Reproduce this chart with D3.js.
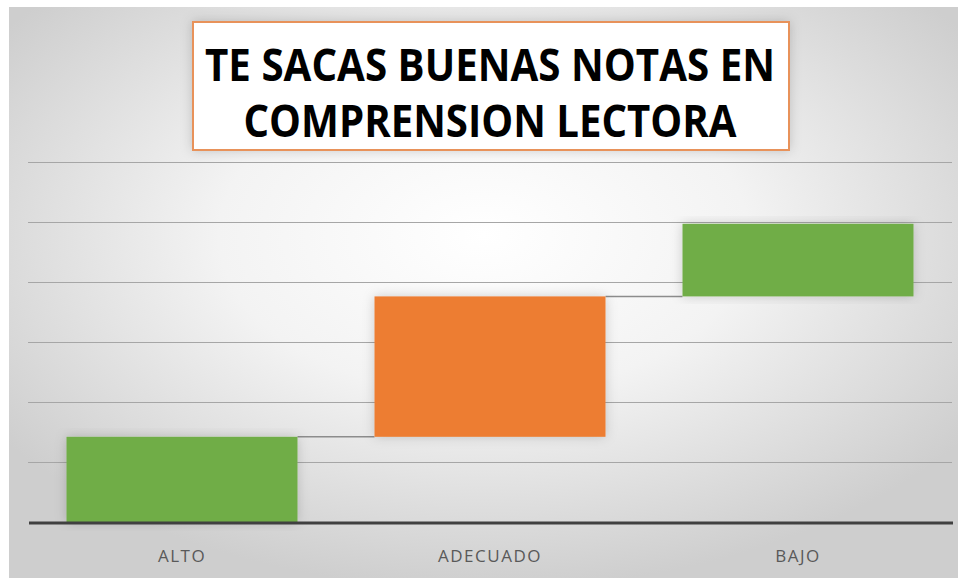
<!DOCTYPE html>
<html>
<head>
<meta charset="utf-8">
<script src="https://cdn.jsdelivr.net/npm/d3@7"></script>
<style>
    body { margin: 0; background: #fff; }
    svg { display: block; }
</style>
</head>
<body>
<svg width="958" height="578"></svg>
<script>
    // waterfall: each step adds on top of the previous total
    var categories = ["ALTO", "ADECUADO", "BAJO"];
    var values = [14.2, 23.4, 12.1];
    var colors = ["#70ad47", "#ed7d31", "#70ad47"];
    var yTicks = [0, 10, 20, 30, 40, 50, 60];
    var titleLines = ["TE SACAS BUENAS NOTAS EN", "COMPRENSION LECTORA"];

    var svg = d3.select("svg"),
        margin = {top: 162, right: 6, bottom: 56, left: 28},
        width = +svg.attr("width") - margin.left - margin.right,
        height = +svg.attr("height") - margin.top - margin.bottom;

    var defs = svg.append("defs");
    var grad = defs.append("radialGradient")
        .attr("id", "bg")
        .attr("cx", "50%").attr("cy", "40%").attr("r", "62%");
    grad.append("stop").attr("offset", "0%").attr("stop-color", "#ffffff");
    grad.append("stop").attr("offset", "45%").attr("stop-color", "#f3f3f3");
    grad.append("stop").attr("offset", "100%").attr("stop-color", "#cecece");

    var shadow = defs.append("filter").attr("id", "shadow")
        .attr("x", "-10%").attr("y", "-10%").attr("width", "120%").attr("height", "120%");
    shadow.append("feDropShadow")
        .attr("dx", 0).attr("dy", 0).attr("stdDeviation", 6)
        .attr("flood-color", "#000").attr("flood-opacity", 0.18);

    svg.append("rect")
        .attr("x", 9).attr("y", 7)
        .attr("width", 949).attr("height", 571)
        .attr("fill", "url(#bg)");

    var g = svg.append("g").attr("transform", "translate(" + margin.left + "," + margin.top + ")");

    var x = d3.scaleBand()
        .domain(categories)
        .range([0, width])
        .paddingInner(0.25)
        .paddingOuter(0.125);

    var y = d3.scaleLinear()
        .domain([0, 60])
        .range([height, 0]);

    // running totals
    var data = [];
    var total = 0;
    categories.forEach(function (c, i) {
        data.push({cat: c, start: total, end: total + values[i], color: colors[i]});
        total += values[i];
    });

    // gridlines
    g.append("g")
        .selectAll("line")
        .data(yTicks.filter(function (d) { return d > 0; }))
        .enter().append("line")
        .attr("x1", 0)
        .attr("x2", width)
        .attr("y1", function (d) { return Math.round(y(d)) + 0.5; })
        .attr("y2", function (d) { return Math.round(y(d)) + 0.5; })
        .attr("stroke", "#a6a6a6")
        .attr("stroke-width", 1);

    // connectors
    g.append("g")
        .selectAll("line")
        .data(data.slice(0, -1))
        .enter().append("line")
        .attr("x1", function (d) { return x(d.cat) + x.bandwidth(); })
        .attr("x2", function (d, i) { return x(categories[i + 1]); })
        .attr("y1", function (d) { return y(d.end); })
        .attr("y2", function (d) { return y(d.end); })
        .attr("stroke", "#8c8c8c")
        .attr("stroke-width", 1.5);

    // bars
    g.append("g")
        .selectAll("rect")
        .data(data)
        .enter().append("rect")
        .attr("x", function (d) { return x(d.cat); })
        .attr("y", function (d) { return y(d.end); })
        .attr("width", x.bandwidth())
        .attr("height", function (d) { return y(d.start) - y(d.end); })
        .attr("fill", function (d) { return d.color; })
        .attr("filter", "url(#shadow)");

    // baseline
    g.append("line")
        .attr("x1", 1).attr("x2", width + 1)
        .attr("y1", y(0) + 1).attr("y2", y(0) + 1)
        .attr("stroke", "#404040")
        .attr("stroke-width", 3);

    // category labels
    var xAxis = g.append("g")
        .attr("transform", "translate(0," + height + ")")
        .call(d3.axisBottom(x).tickSize(0).tickPadding(28));
    xAxis.select(".domain").remove();
    xAxis.selectAll("text")
        .attr("fill", "#595959")
        .style("font-family", "'Open Sans', sans-serif")
        .style("font-size", "17px")
        .style("letter-spacing", "1.5px");

    // title box
    svg.append("rect")
        .attr("x", 193).attr("y", 22)
        .attr("width", 596).attr("height", 128)
        .attr("fill", "#fff")
        .attr("stroke", "#e8925a")
        .attr("stroke-width", 2)
        .attr("filter", "url(#shadow)");

    var lineWidths = [570, 493];
    svg.append("g")
        .selectAll("text")
        .data(titleLines)
        .enter().append("text")
        .attr("x", 490)
        .attr("y", function (d, i) { return 81 + i * 56; })
        .attr("text-anchor", "middle")
        .attr("textLength", function (d, i) { return lineWidths[i]; })
        .attr("lengthAdjust", "spacingAndGlyphs")
        .style("font-family", "'Open Sans', sans-serif")
        .style("font-weight", "bold")
        .style("font-size", "45px")
        .attr("fill", "#000")
        .text(function (d) { return d; });
</script>
</body>
</html>
